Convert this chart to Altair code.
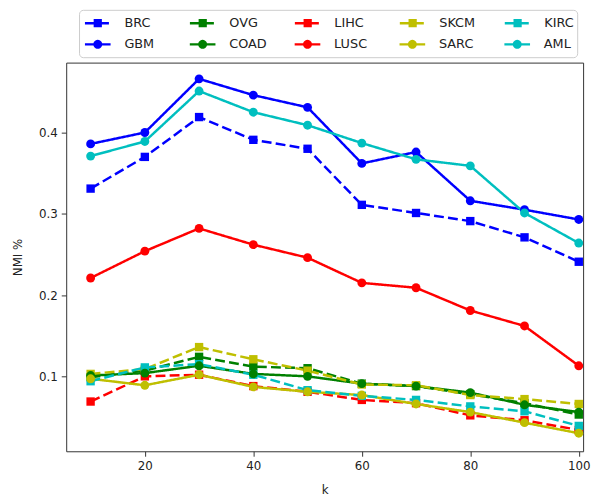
import math
import altair as alt
import pandas as pd

k_values = [10, 20, 30, 40, 50, 60, 70, 80, 90, 100]

BRC = [0.331, 0.370, 0.419, 0.391, 0.380, 0.311, 0.301, 0.291, 0.271, 0.241]
GBM = [0.386, 0.400, 0.466, 0.446, 0.431, 0.362, 0.376, 0.316, 0.305, 0.293]
OVG = [0.099, 0.107, 0.124, 0.112, 0.110, 0.091, 0.088, 0.078, 0.067, 0.053]
COAD = [0.101, 0.104, 0.113, 0.103, 0.100, 0.091, 0.088, 0.080, 0.065, 0.056]
LIHC = [0.069, 0.100, 0.102, 0.088, 0.081, 0.071, 0.067, 0.052, 0.046, 0.034]
LUSC = [0.221, 0.254, 0.282, 0.262, 0.246, 0.215, 0.209, 0.181, 0.162, 0.113]
SKCM = [0.103, 0.109, 0.136, 0.121, 0.107, 0.090, 0.089, 0.077, 0.072, 0.066]
SARC = [0.097, 0.089, 0.102, 0.087, 0.081, 0.077, 0.066, 0.056, 0.043, 0.030]
KIRC = [0.094, 0.111, 0.115, 0.102, 0.083, 0.076, 0.071, 0.063, 0.057, 0.039]
AML = [0.371, 0.389, 0.451, 0.425, 0.409, 0.387, 0.367, 0.359, 0.301, 0.264]

series_values = {
    "BRC": BRC, "GBM": GBM, "OVG": OVG, "COAD": COAD, "LIHC": LIHC,
    "LUSC": LUSC, "SKCM": SKCM, "SARC": SARC, "KIRC": KIRC, "AML": AML,
}
dashed_series = ["BRC", "OVG", "LIHC", "SKCM", "KIRC"]
solid_series = ["GBM", "COAD", "LUSC", "SARC", "AML"]
row_colors = ["#0000ff", "#008000", "#ff0000", "#bfbf00", "#00bfbf"]
all_series = dashed_series + solid_series
all_colors = row_colors + row_colors
y_ticks = [0.1, 0.2, 0.3, 0.4]
x_ticks = [20, 40, 60, 80, 100]

rows = []
for name, vals in series_values.items():
    for kk, v in zip(k_values, vals):
        rows.append({"series": name, "k": kk, "nmi": v})
df = pd.DataFrame(rows)

FONT = "DejaVu Sans"
TXT = "#222222"

dash_range = [[10, 4.3] if s in dashed_series else [1, 0] for s in all_series]

# legend handle glyphs (line drawn as thin bar + marker), normalized to [-1, 1]
LH = 0.096


def bar(x0, x1):
    return f"M{x0},{-LH}H{x1}V{LH}H{x0}Z"


def circle_poly(r, n=24):
    pts = []
    for i in range(n):
        a = 2 * math.pi * i / n
        pts.append(f"{r * math.cos(a):.3f},{r * math.sin(a):.3f}")
    return "M" + "L".join(pts) + "Z"


sq = 0.32
sq_path = bar(-1, -sq) + bar(sq, 0.87) + f"M{-sq},{-sq}H{sq}V{sq}H{-sq}Z"
ci_path = bar(-1, -0.3) + bar(0.3, 1) + circle_poly(0.35)

x_enc = alt.X("k:Q", scale=alt.Scale(domain=[5.5, 100.8], nice=False, zero=False),
              axis=alt.Axis(values=x_ticks, format="d", title="k", titleY=43,
                            titleBaseline="alphabetic"))
y_enc = alt.Y("nmi:Q", scale=alt.Scale(domain=[0.0078, 0.486], nice=False, zero=False),
              axis=alt.Axis(values=y_ticks, format=".1f", title="NMI %",
                            titleX=-49, titleY=197, titleBaseline="middle"))

common_leg = dict(
    orient="none", legendX=13, columns=5, gridAlign="all",
    symbolSize=676, symbolStrokeWidth=0, symbolOpacity=1,
    labelFontSize=13, labelFont=FONT, labelColor=TXT, labelOffset=14,
    padding=6,
)

# row 2 legend carries the frame; its invisible (blank) title reserves the first row
# and sets the frame's width
blank_title = "\u00a0" * 122
leg_solid = alt.Legend(
    title=blank_title, titleFontSize=13, titleFont=FONT, titlePadding=3, titleLimit=1000,
    legendY=-53.5, symbolType=ci_path, columnPadding=28.3, zindex=1,
    fillColor="white", strokeColor="#cccccc", cornerRadius=4,
    **common_leg,
)
leg_dashed = alt.Legend(
    title=None, legendY=-59, symbolType=sq_path, columnPadding=29.4, zindex=2,
    **common_leg,
)

base = alt.Chart(df)

lines = base.mark_line(strokeWidth=2.5).encode(
    x=x_enc, y=y_enc,
    color=alt.Color("series:N", scale=alt.Scale(domain=all_series, range=all_colors), legend=None),
    strokeDash=alt.StrokeDash("series:N", scale=alt.Scale(domain=all_series, range=dash_range), legend=None),
)

squares = base.transform_filter(
    alt.FieldOneOfPredicate(field="series", oneOf=dashed_series)
).mark_square(size=72, opacity=1).encode(
    x=x_enc, y=y_enc,
    color=alt.Color("series:N", scale=alt.Scale(domain=dashed_series, range=row_colors), legend=leg_dashed),
)

circles = base.transform_filter(
    alt.FieldOneOfPredicate(field="series", oneOf=solid_series)
).mark_circle(size=81, opacity=1).encode(
    x=x_enc, y=y_enc,
    color=alt.Color("series:N", scale=alt.Scale(domain=solid_series, range=row_colors), legend=leg_solid),
)

chart = alt.layer(lines, squares, circles).resolve_scale(
    color="independent"
).properties(
    width=524, height=394,
    autosize=alt.AutoSizeParams(type="none"),
    padding={"left": 59, "top": 52, "right": 8, "bottom": 44},
).configure_view(
    stroke="#333333", strokeWidth=1
).configure_axis(
    grid=False, domain=False, tickSize=5, tickColor="#333333", tickWidth=1,
    labelFont=FONT, labelFontSize=12, labelColor=TXT, labelPadding=4,
    titleFont=FONT, titleFontSize=12, titleColor=TXT, titleFontWeight="normal",
)

chart.save("out.html", embed_options={"renderer": "svg", "actions": False})
